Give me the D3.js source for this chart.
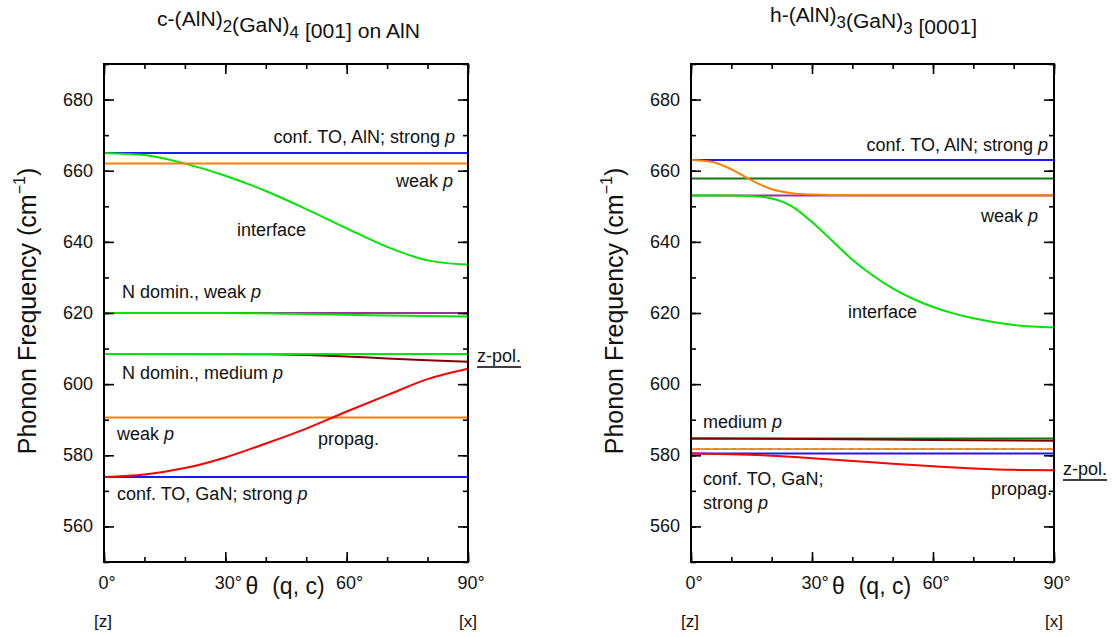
<!DOCTYPE html>
<html>
<head>
<meta charset="utf-8">
<script src="https://cdn.jsdelivr.net/npm/d3@7"></script>
<style>
  body { margin: 0; background: #fff; }
  text { font-family: "Liberation Sans", Arial, sans-serif; fill: #111; }
</style>
</head>
<body>
<svg id="chart" width="1117" height="637"></svg>
<script>
//// data (angle in degrees, frequency in cm^-1)
var angles = [0, 10, 20, 30, 40, 50, 60, 70, 80, 90];
var flatAngles = [0, 90];

// left panel: c-(AlN)2(GaN)4
var cBlueHi = [665, 665];
var cOrangeHi = [662, 662];
var cInterface = [665, 664.4, 662, 658.6, 654.3, 649.2, 643.8, 638.6, 634.8, 633.6];
var cPurple = [620, 620];
var cGrayAngles = [0, 40];
var cGray = [620, 620];
var cGreenWeakAngles = [0, 30, 45, 60, 75, 90];
var cGreenWeak = [620, 620, 619.8, 619.5, 619.2, 619.0];
var cDarkRedAngles = [0, 40, 50, 60, 70, 80, 90];
var cDarkRed = [608.5, 608.4, 608.2, 607.8, 607.2, 606.7, 606.3];
var cGreenMed = [608.5, 608.5];
var cOrangeLo = [590.6, 590.6];
var cBlueLo = [573.9, 573.9];
var cPropag = [573.9, 574.6, 576.4, 579.4, 583.3, 587.5, 592.3, 596.9, 601.4, 604.3];

// right panel: h-(AlN)3(GaN)3
var hBlueHi = [663, 663];
var hOrangeAngles = [0, 5, 10, 15, 20, 25, 30, 40, 90];
var hOrange = [663, 662.5, 660.4, 657.3, 654.8, 653.7, 653.3, 653.1, 653.1];
var hDarkGreen = [657.8, 657.8];
var hPurple = [653, 653];
var hInterfaceAngles = [0, 10, 15, 20, 25, 30, 35, 40, 45, 50, 55, 60, 65, 70, 80, 90];
var hInterface = [653, 653, 652.9, 652.2, 650.0, 645.6, 640.3, 635.0, 630.6, 626.9, 624.0, 621.7, 619.9, 618.5, 616.6, 615.9];
var hDarkGreenLo = [584.7, 584.7];
var hDarkRedAngles = [0, 30, 60, 90];
var hDarkRed = [584.7, 584.6, 584.3, 584.1];
var hOrangeLo = [581.8, 581.8];
var hBlueLo = [580.5, 580.5];
var hPropag = [580.5, 580.3, 579.9, 579.2, 578.4, 577.6, 576.9, 576.3, 575.9, 575.8];

var xTicks = [0, 30, 60, 90];
var yTicks = [560, 580, 600, 620, 640, 660, 680];

var colors = {
  blue: "#1a1aff", orange: "#ff8000", green: "#00e600", darkGreen: "#0a7a0a",
  red: "#ff0000", darkRed: "#800000", purple: "#993399", gray: "#505050"
};

function zip(xs, ys) { return xs.map(function(a, i) { return [a, ys[i]]; }); }

var leftSeries = [
  {pts: zip(flatAngles, cPurple), c: colors.purple},
  {pts: zip(cGrayAngles, cGray), c: colors.gray},
  {pts: zip(cGreenWeakAngles, cGreenWeak), c: colors.green},
  {pts: zip(cDarkRedAngles, cDarkRed), c: colors.darkRed},
  {pts: zip(flatAngles, cGreenMed), c: colors.green},
  {pts: zip(flatAngles, cOrangeLo), c: colors.orange},
  {pts: zip(flatAngles, cBlueLo), c: colors.blue},
  {pts: zip(angles, cPropag), c: colors.red},
  {pts: zip(flatAngles, cBlueHi), c: colors.blue},
  {pts: zip(angles, cInterface), c: colors.green},
  {pts: zip(flatAngles, cOrangeHi), c: colors.orange}
];
var rightSeries = [
  {pts: zip(flatAngles, hBlueHi), c: colors.blue},
  {pts: zip(flatAngles, hDarkGreen), c: colors.darkGreen},
  {pts: zip(flatAngles, hPurple), c: colors.purple},
  {pts: zip(hInterfaceAngles, hInterface), c: colors.green},
  {pts: zip(hOrangeAngles, hOrange), c: colors.orange},
  {pts: zip(flatAngles, hDarkGreenLo), c: colors.darkGreen},
  {pts: zip(hDarkRedAngles, hDarkRed), c: colors.darkRed},
  {pts: zip(flatAngles, hOrangeLo), c: colors.orange},
  {pts: zip(flatAngles, hOrangeLo), c: "#b0b0b0", dash: "5,4", w: 1},
  {pts: zip(flatAngles, hBlueLo), c: colors.blue},
  {pts: zip(angles, hPropag), c: colors.red}
];

var svg = d3.select("svg#chart");
var plotTop = 64, plotBottom = 562;

function panel(x0, x1, series, labels, zpol, title) {
  var x = d3.scaleLinear().domain([0, 90]).range([x0, x1]);
  var y = d3.scaleLinear().domain([550, 690]).range([plotBottom, plotTop]);
  var g = svg.append("g");

  var line = d3.line()
      .x(function(d) { return x(d[0]); })
      .y(function(d) { return y(d[1]); })
      .curve(d3.curveMonotoneX);

  g.selectAll("path.mode")
    .data(series)
    .enter().append("path")
    .attr("class", "mode")
    .attr("d", function(d) { return line(d.pts); })
    .attr("fill", "none")
    .attr("stroke", function(d) { return d.c; })
    .attr("stroke-width", function(d) { return d.w || 2; })
    .attr("stroke-dasharray", function(d) { return d.dash || null; });

  // inside ticks on all four sides
  var xMinor = d3.range(0, 91, 10), yMinor = d3.range(550, 691, 10);
  function tk(axis, s, vals, len) {
    return axis(s).tickValues(vals).tickSizeInner(-len).tickSizeOuter(0).tickFormat("");
  }
  var axes = [
    {a: tk(d3.axisBottom, x, xMinor, 5), t: "translate(0," + plotBottom + ")"},
    {a: tk(d3.axisBottom, x, xTicks, 10), t: "translate(0," + plotBottom + ")"},
    {a: tk(d3.axisTop, x, xMinor, 5), t: "translate(0," + plotTop + ")"},
    {a: tk(d3.axisTop, x, xTicks, 10), t: "translate(0," + plotTop + ")"},
    {a: tk(d3.axisLeft, y, yMinor, 5), t: "translate(" + x0 + ",0)"},
    {a: tk(d3.axisLeft, y, yTicks, 10), t: "translate(" + x0 + ",0)"},
    {a: tk(d3.axisRight, y, yMinor, 5), t: "translate(" + x1 + ",0)"},
    {a: tk(d3.axisRight, y, yTicks, 10), t: "translate(" + x1 + ",0)"}
  ];
  axes.forEach(function(ax) {
    var a = g.append("g").attr("transform", ax.t).call(ax.a);
    a.select(".domain").remove();
    a.selectAll("line").attr("stroke", "#000").attr("stroke-width", 1.6);
  });

  g.append("rect")
    .attr("x", x0).attr("y", plotTop)
    .attr("width", x1 - x0).attr("height", plotBottom - plotTop)
    .attr("fill", "none").attr("stroke", "#000").attr("stroke-width", 2);

  // tick labels
  g.selectAll("text.yl").data(yTicks).enter().append("text")
    .attr("x", x0 - 11).attr("y", function(d) { return y(d) + 6; })
    .attr("text-anchor", "end").style("font-size", "18px")
    .text(function(d) { return d; });
  g.selectAll("text.xl").data(xTicks).enter().append("text")
    .attr("x", function(d) { return x(d) + 3; }).attr("y", 589)
    .attr("text-anchor", "middle").style("font-size", "18px")
    .text(function(d) { return d + "\u00b0"; });

  // axis titles
  var xt = g.append("text").attr("x", (x0 + x1) / 2 - 1).attr("y", 594)
    .attr("text-anchor", "middle").style("font-size", "23px");
  xt.append("tspan").text("\u03b8");
  xt.append("tspan").attr("dx", 14).text("(q, c)");
  g.append("text").attr("x", x0 - 1).attr("y", 627).attr("text-anchor", "middle")
    .style("font-size", "17px").text("[z]");
  g.append("text").attr("x", x1).attr("y", 627).attr("text-anchor", "middle")
    .style("font-size", "17px").text("[x]");

  var yt = g.append("text")
    .attr("transform", "translate(" + (x0 - 68) + "," + 311 + ") rotate(-90)")
    .attr("text-anchor", "middle").style("font-size", "25px");
  yt.append("tspan").text("Phonon Frequency  (cm");
  yt.append("tspan").attr("dy", -11).style("font-size", "16px").text("\u22121");
  yt.append("tspan").attr("dy", 11).text(")");

  // mode annotations
  labels.forEach(function(l) {
    var t = g.append("text").attr("x", l.x).attr("y", l.y)
      .attr("text-anchor", l.a || "start").style("font-size", "18px");
    t.append("tspan").text(l.t);
    if (l.p) t.append("tspan").style("font-style", "italic").text("p");
  });

  // z-pol.
  var zp = g.append("text").attr("x", x1 + 9).attr("y", zpol)
    .style("font-size", "18px").text("z-pol.");
  var zw = zp.node().getComputedTextLength();
  g.append("line").attr("x1", x1 + 9).attr("x2", x1 + 9 + zw)
    .attr("y1", zpol + 5).attr("y2", zpol + 5)
    .attr("stroke", "#000").attr("stroke-width", 1.5);

  // title with subscripts, condensed like the original narrow face
  var tt = svg.append("text")
    .attr("x", title.x0).attr("y", title.y)
    .attr("textLength", title.w).attr("lengthAdjust", "spacingAndGlyphs")
    .style("font-size", "20px");
  title.parts.forEach(function(p) {
    if (p.sub) {
      tt.append("tspan").attr("dy", 6).style("font-size", "16px").text(p.sub);
      tt.append("tspan").attr("dy", -6).text("");
    } else {
      tt.append("tspan").text(p.t);
    }
  });
}

panel(104, 468, leftSeries, [
  {x: 455, y: 143, t: "conf. TO, AlN; strong ", p: 1, a: "end"},
  {x: 453, y: 187, t: "weak ", p: 1, a: "end"},
  {x: 237, y: 236, t: "interface"},
  {x: 122, y: 298, t: "N domin., weak ", p: 1},
  {x: 122, y: 379, t: "N domin., medium ", p: 1},
  {x: 117, y: 440, t: "weak ", p: 1},
  {x: 318, y: 445, t: "propag."},
  {x: 117, y: 500, t: "conf. TO, GaN; strong ", p: 1}
], 362, {x0: 157, w: 263, y: 26, parts: [{t: "c-(AlN)"}, {sub: "2"}, {t: "(GaN)"}, {sub: "4"}, {t: " [001] on AlN"}]});

panel(691, 1054, rightSeries, [
  {x: 1048, y: 151, t: "conf. TO, AlN; strong ", p: 1, a: "end"},
  {x: 1038, y: 222, t: "weak ", p: 1, a: "end"},
  {x: 848, y: 318, t: "interface"},
  {x: 703, y: 428, t: "medium ", p: 1},
  {x: 703, y: 485, t: "conf. TO, GaN;"},
  {x: 703, y: 509, t: "strong ", p: 1},
  {x: 1052, y: 495, t: "propag.", a: "end"}
], 475, {x0: 770, w: 207, y: 22, parts: [{t: "h-(AlN)"}, {sub: "3"}, {t: "(GaN)"}, {sub: "3"}, {t: " [0001]"}]});
</script>
</body>
</html>
